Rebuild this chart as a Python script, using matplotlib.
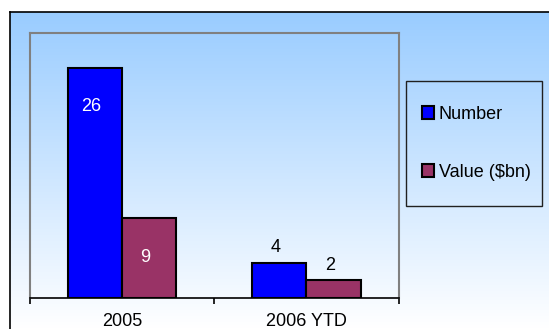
import numpy as np
import matplotlib
import matplotlib.pyplot as plt
from matplotlib.patches import Rectangle
from matplotlib.colors import LinearSegmentedColormap

matplotlib.use('Agg')

categories = ['2005', '2006 YTD']
number = [26, 4]
value_bn = [9, 2]
series_names = ['Number', 'Value ($bn)']
series_colors = ['#0000FF', '#993366']

plt.rcParams['font.family'] = ['Liberation Sans', 'DejaVu Sans']

W, H = 549, 329
fig = plt.figure(figsize=(W / 100, H / 100), dpi=100)
fig.patch.set_facecolor('white')

def fx(px):
    return px / W

def fy(py):
    return 1 - py / H

# chart area with vertical gradient
bg = fig.add_axes([fx(10), 0, 1 - fx(10) + 0.01, fy(11.5)])
grad = np.linspace(0, 1, 256).reshape(-1, 1)
cmap = LinearSegmentedColormap.from_list('bg', ['#99CCFF', '#FFFFFF'])
bg.imshow(grad, aspect='auto', cmap=cmap, extent=[0, 1, 0, 1], origin='upper')
bg.set_xticks([])
bg.set_yticks([])
for s in ['right', 'bottom']:
    bg.spines[s].set_visible(False)
for s in ['left', 'top']:
    bg.spines[s].set_color('black')
    bg.spines[s].set_linewidth(1.2)

# plot area
ax = fig.add_axes([fx(29.5), fy(298), fx(398.7) - fx(29.5), fy(32.5) - fy(298)])
ax.patch.set_alpha(0)
x = np.arange(len(categories))
bw = 0.2935
bars1 = ax.bar(x - bw / 2, number, bw, color=series_colors[0], edgecolor='black', linewidth=1.5, label=series_names[0], zorder=3)
bars2 = ax.bar(x + bw / 2, value_bn, bw, color=series_colors[1], edgecolor='black', linewidth=1.5, label=series_names[1], zorder=3)

for bars in (bars1, bars2):
    for b in bars:
        v = b.get_height()
        cx = b.get_x() + b.get_width() / 2
        if v > 5:
            ax.annotate(f'{v:g}', (cx, v), xytext=(-2.5, -28), textcoords='offset points',
                        ha='center', va='center', color='white', fontsize=13)
        else:
            ax.annotate(f'{v:g}', (cx, v), xytext=(-2.5, 11), textcoords='offset points',
                        ha='center', va='center', color='black', fontsize=13)

ax.set_xlim(-0.5, len(categories) - 0.5)
ax.set_ylim(0, 30)
ax.set_yticks([])
ax.set_xticks(x)
ax.set_xticklabels(categories, fontsize=13)
ax.tick_params(axis='x', which='major', length=0, pad=11)
ax.set_xticks(np.arange(len(categories) + 1) - 0.5, minor=True)
ax.tick_params(axis='x', which='minor', length=4, width=1.2, color='black', direction='out')
for s in ['left', 'top', 'right']:
    ax.spines[s].set_color('#808080')
    ax.spines[s].set_linewidth(1.5)
ax.spines['bottom'].set_color('black')
ax.spines['bottom'].set_linewidth(1.2)

# legend box
fig.patches.append(Rectangle((fx(406.4), fy(206.2)), fx(542.2) - fx(406.4), fy(80.9) - fy(206.2),
                             transform=fig.transFigure, facecolor='none', edgecolor='#202020',
                             linewidth=1.0))
handles = [Rectangle((0, 0), 1, 1, facecolor=c, edgecolor='black', linewidth=1.5) for c in series_colors]
fig.legend(handles, series_names, loc='upper left', bbox_to_anchor=(fx(412.5), fy(96.5)),
           frameon=False, fontsize=13, borderpad=0, labelspacing=2.3,
           handlelength=0.7, handleheight=0.7, handletextpad=0.25)

fig.savefig('out.png', dpi=100)
